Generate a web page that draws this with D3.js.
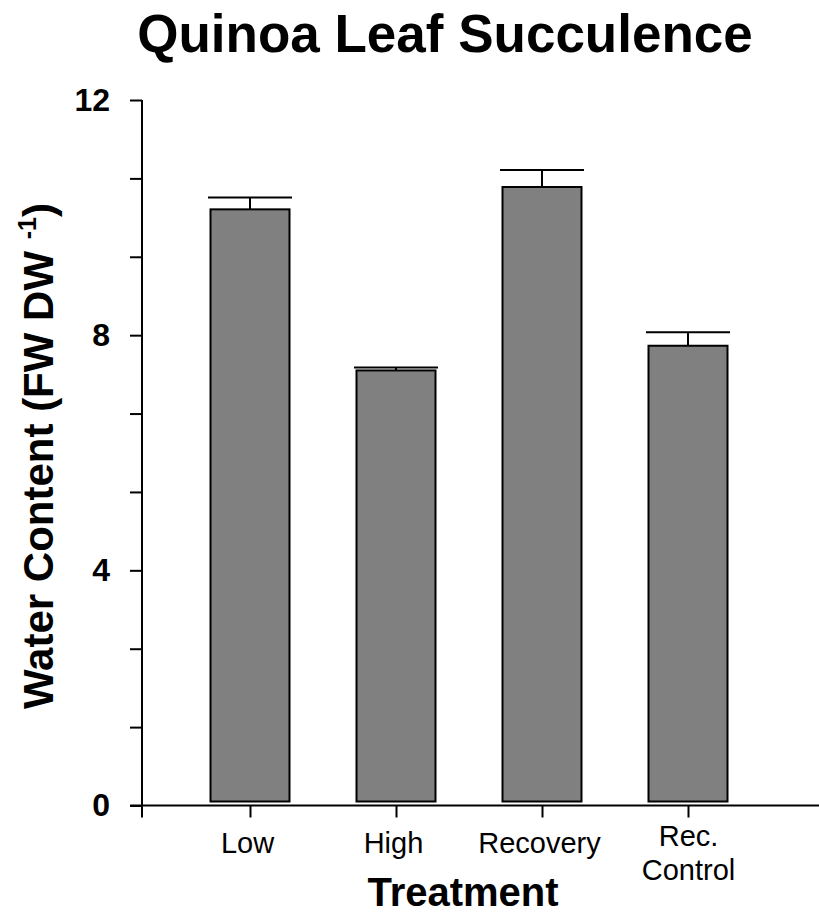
<!DOCTYPE html>
<html>
<head>
<meta charset="utf-8">
<script src="https://cdnjs.cloudflare.com/ajax/libs/d3/7.8.5/d3.min.js"></script>
<style>
  body { margin: 0; background: #fff; }
  text { font-family: "Liberation Sans", Arial, sans-serif; }
</style>
</head>
<body>
<div id="chart"></div>
<script>
// data
const categories = ['Low', 'High', 'Recovery', 'Rec. Control'];
const values = [10.14, 7.40, 10.52, 7.82];
const errors = [0.20, 0.05, 0.29, 0.23];
const yTickValues = [0, 4/3, 8/3, 4, 16/3, 20/3, 8, 28/3, 32/3, 12];
const yTickLabels = ['0', '', '', '4', '', '', '8', '', '', '12'];

const width = 819, height = 916;
const axisLeft = 142, axisBottom = 805.5;

const svg = d3.select('#chart').append('svg')
    .attr('width', width)
    .attr('height', height);

const y = d3.scaleLinear().domain([0, 12]).range([axisBottom, 100]);
const x = d3.scalePoint().domain(categories).range([250, 688]);
const barWidth = 79, capWidth = 84;

// title
svg.append('text')
    .attr('x', 445).attr('y', 52)
    .attr('text-anchor', 'middle')
    .attr('font-size', 53)
    .attr('font-weight', 'bold')
    .text('Quinoa Leaf Succulence');

// bars
svg.selectAll('rect.bar').data(values).enter().append('rect')
    .attr('class', 'bar')
    .attr('x', (d, i) => x(categories[i]) - barWidth / 2)
    .attr('y', d => y(d))
    .attr('width', barWidth)
    .attr('height', d => y(0) - 4 - y(d))
    .attr('fill', '#808080')
    .attr('stroke', '#000')
    .attr('stroke-width', 2);

// error bars (upper only)
const eb = svg.selectAll('g.err').data(values).enter().append('g').attr('class', 'err')
    .attr('stroke', '#000').attr('stroke-width', 2);
eb.append('line')
    .attr('x1', (d, i) => x(categories[i]))
    .attr('x2', (d, i) => x(categories[i]))
    .attr('y1', d => y(d))
    .attr('y2', (d, i) => y(d + errors[i]));
eb.append('line')
    .attr('x1', (d, i) => x(categories[i]) - capWidth / 2)
    .attr('x2', (d, i) => x(categories[i]) + capWidth / 2)
    .attr('y1', (d, i) => y(d + errors[i]))
    .attr('y2', (d, i) => y(d + errors[i]));

// y axis
const yAxis = d3.axisLeft(y)
    .tickValues(yTickValues)
    .tickFormat((d, i) => yTickLabels[i])
    .tickSize(12)
    .tickPadding(20);
const gy = svg.append('g').attr('transform', `translate(${axisLeft},0)`).call(yAxis);
gy.select('.domain').attr('d', `M0,${y(12)}V${axisBottom}`).attr('stroke-width', 2);
gy.selectAll('.tick line').attr('stroke-width', 2);
gy.selectAll('.tick text')
    .attr('font-size', 32)
    .attr('font-weight', 'bold')
    .attr('fill', '#000')
    .attr('font-family', '"Liberation Sans", Arial, sans-serif');

// x axis
const xAxis = d3.axisBottom(x).tickSize(12).tickPadding(14).tickFormat('');
const gx = svg.append('g').attr('transform', `translate(0,${axisBottom})`).call(xAxis);
gx.select('.domain').attr('d', `M130,0H${width}`).attr('stroke-width', 2);
gx.selectAll('.tick line').attr('stroke-width', 2);
gx.append('line').attr('x1', axisLeft).attr('x2', axisLeft).attr('y1', 0).attr('y2', 12)
    .attr('stroke', '#000').attr('stroke-width', 2);

gx.selectAll('.tick').each(function(d) {
    const parts = d.split(' ');
    const t = d3.select(this).append('text')
        .attr('fill', '#000')
        .attr('text-anchor', 'middle')
        .attr('font-size', 29)
        .attr('font-family', '"Liberation Sans", Arial, sans-serif');
    if (parts.length === 1) {
        t.append('tspan').attr('x', -3).attr('y', 47).text(d);
    } else {
        parts.forEach((p, i) => {
            t.append('tspan').attr('x', 0).attr('y', 40 + i * 34).text(p);
        });
    }
});

// axis titles
svg.append('text')
    .attr('x', 463).attr('y', 906)
    .attr('text-anchor', 'middle')
    .attr('font-size', 40)
    .attr('font-weight', 'bold')
    .text('Treatment');

const yl = svg.append('text')
    .attr('transform', 'translate(53,456) rotate(-90)')
    .attr('text-anchor', 'middle')
    .attr('font-size', 42)
    .attr('font-weight', 'bold');
yl.append('tspan').text('Water Content (FW DW ');
yl.append('tspan').attr('font-size', 25).attr('dy', -17).text('-1');
yl.append('tspan').attr('dy', 17).text(')');
</script>
</body>
</html>
